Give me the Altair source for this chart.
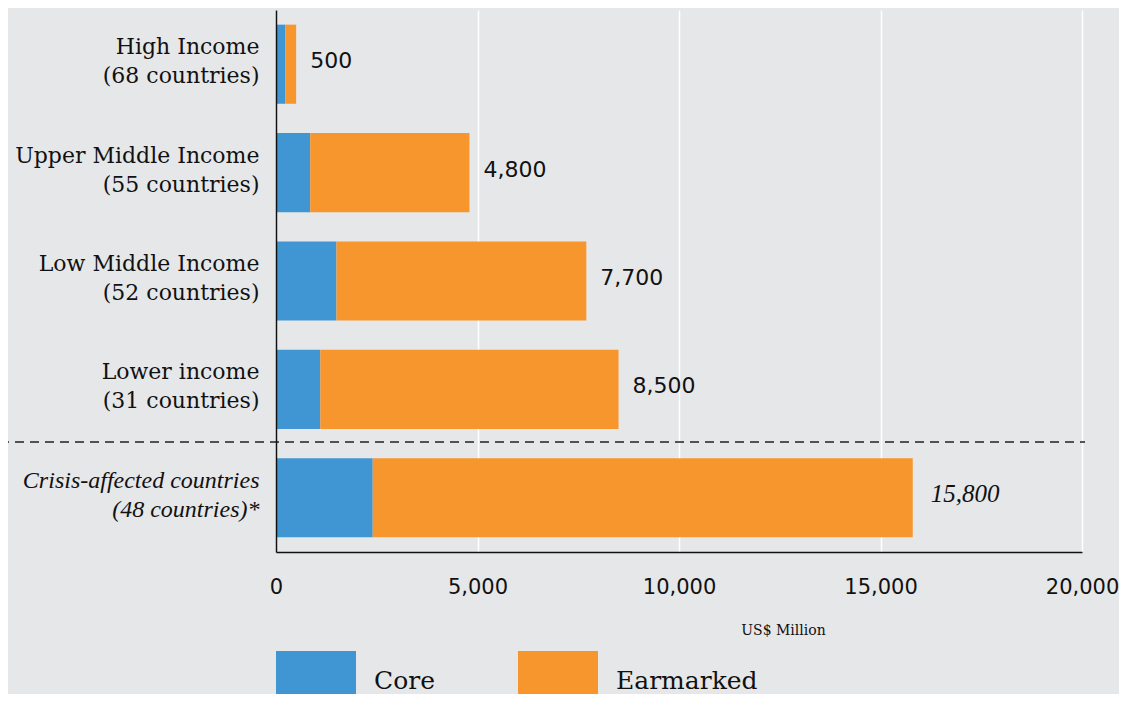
import altair as alt
import pandas as pd

categories = [
    "High Income|(68 countries)",
    "Upper Middle Income|(55 countries)",
    "Low Middle Income|(52 countries)",
    "Lower income|(31 countries)",
    "Crisis-affected countries|(48 countries)*",
]
core = [230, 850, 1500, 1100, 2400]
earmarked = [270, 3950, 6200, 7400, 13400]
totals = [500, 4800, 7700, 8500, 15800]
total_labels = ["500", "4,800", "7,700", "8,500", "15,800"]
series = ["Core", "Earmarked"]
colors = ["#4096d3", "#f8962e"]
x_ticks = [0, 5000, 10000, 15000, 20000]

rows = []
for c, a, b in zip(categories, core, earmarked):
    rows.append({"cat": c, "type": "Core", "value": a, "ord": 0})
    rows.append({"cat": c, "type": "Earmarked", "value": b, "ord": 1})
df = pd.DataFrame(rows)
tot = pd.DataFrame({"cat": categories, "total": totals, "label": total_labels,
                    "crisis": [False, False, False, False, True]})

SERIF = "DejaVu Serif"
SANS = "DejaVu Sans"

yscale = alt.Scale(domain=categories, paddingInner=0.27, paddingOuter=0.135)
xscale = alt.Scale(domain=[0, 20000], nice=False)

is_crisis = "indexof(datum.value, 'Crisis') >= 0"

bars = alt.Chart(df).mark_bar().encode(
    y=alt.Y("cat:N", scale=yscale, sort=categories, title=None,
            axis=alt.Axis(
                labelExpr="split(datum.label, '|')",
                labelFont={"condition": {"test": is_crisis, "value": "Liberation Serif"}, "value": SERIF},
                labelFontStyle={"condition": {"test": is_crisis, "value": "italic"}, "value": "normal"},
                labelFontSize={"condition": {"test": is_crisis, "value": 24}, "value": 22},
                labelLineHeight=29,
                labelOffset=-17,
                labelColor="#111111",
                labelPadding=17,
                labelLimit=400,
                ticks=False,
                domain=True,
                domainColor="#111111",
                domainWidth=1.5,
                grid=False,
                zindex=1,
            )),
    x=alt.X("value:Q", scale=xscale, stack="zero",
            axis=alt.Axis(
                values=x_ticks, format=",d", ticks=False, labelFlush=False,
                grid=True, gridColor="#ffffff", gridWidth=1.5,
                domain=True, domainColor="#111111", domainWidth=1.5,
                labelFont=SANS, labelFontSize=21, labelColor="#111111",
                labelPadding=24,
                title="US$ Million", titleFont=SERIF, titleFontSize=14,
                titleFontWeight="normal", titleColor="#111111",
                titleX=507, titleY=78, titleBaseline="middle", titleAlign="center",
            )),
    color=alt.Color("type:N", scale=alt.Scale(domain=series, range=colors),
                    legend=alt.Legend(
                        title=None, orient="none", legendX=0, legendY=631,
                        direction="horizontal",
                        symbolType="M-1,-0.75H1V0.75H-1Z", symbolSize=6400,
                        symbolStrokeWidth=0, symbolOpacity=1,
                        labelFont=SERIF, labelFontSize=25, labelColor="#111111",
                        labelOffset=18, columnPadding=83, padding=0,
                    )),
    order=alt.Order("ord:Q"),
)

text_normal = alt.Chart(tot).transform_filter("!datum.crisis").mark_text(
    align="left", baseline="middle", dx=14, dy=-3, font=SANS, fontSize=22, color="#111111"
).encode(
    y=alt.Y("cat:N", scale=yscale, sort=categories),
    x=alt.X("total:Q", scale=xscale),
    text="label:N",
)

text_crisis = alt.Chart(tot).transform_filter("datum.crisis").mark_text(
    align="left", baseline="middle", dx=18, dy=-4, font="Liberation Serif", fontStyle="italic",
    fontSize=25, color="#111111"
).encode(
    y=alt.Y("cat:N", scale=yscale, sort=categories),
    x=alt.X("total:Q", scale=xscale),
    text="label:N",
)

sep = alt.Chart(pd.DataFrame({"k": [0]})).mark_rule(
    color="#222222", strokeWidth=1.3, strokeDash=[9, 6]
).encode(x=alt.value(-276), x2=alt.value(809), y=alt.value(432))

chart = alt.layer(bars, text_normal, text_crisis, sep).properties(
    width=806, height=542,
    autosize=alt.AutoSizeParams(type="none"),
    padding={"left": 268, "top": 2, "right": 37, "bottom": 142},
    background="#e6e7e9",
).configure_view(stroke=None).configure_axis(labelOverlap=False)

chart.save("out.html", embed_options={"renderer": "svg", "actions": False})
